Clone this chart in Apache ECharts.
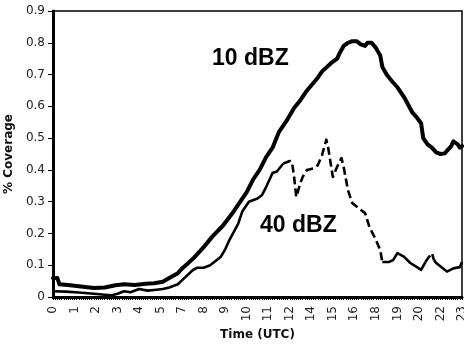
<!DOCTYPE html>
<html><head><meta charset="utf-8">
<script src="https://cdn.jsdelivr.net/npm/echarts@6/dist/echarts.min.js"></script>
<style>html,body{margin:0;padding:0;background:#fff}#c{width:464px;height:344px}</style>
</head><body><div id="c"></div>
<script>
// Hour labels shown every 10th sample on the category axis
const tickLabels = ['0','1','2','3','4','5','7','8','9','10','11','12','14','15','16','18','19','20','22','23'];
const sampleCount = 191;
const yTicks = [0,0.1,0.2,0.3,0.4,0.5,0.6,0.7,0.8,0.9];

// 10 dBZ coverage: sample index and value
const tenIdx = [0,2,3,8,13,19,24,29,33,38,43,47,51,54,58,60,65,70,74,79,84,87,90,93,96,99,102,105,109,112,115,118,123,125,129,132,133,135,137,139,141,143,145,146,148,150,152,153,155,157,158,160,163,165,167,169,171,172,174,176,178,180,182,183,185,186,188,189,190];
const tenVal = [0.06,0.06,0.04,0.037,0.033,0.028,0.03,0.037,0.04,0.038,0.042,0.043,0.048,0.06,0.075,0.09,0.12,0.157,0.19,0.225,0.27,0.3,0.33,0.37,0.40,0.44,0.47,0.52,0.56,0.595,0.62,0.65,0.69,0.71,0.735,0.75,0.765,0.79,0.8,0.805,0.805,0.795,0.79,0.8,0.8,0.784,0.76,0.724,0.7,0.683,0.675,0.66,0.63,0.605,0.58,0.565,0.547,0.5,0.48,0.47,0.455,0.45,0.452,0.46,0.475,0.49,0.48,0.47,0.475];

// 40 dBZ coverage: sample index and value
const fortyIdx = [0,6,12,19,24,27,30,33,36,40,44,47,51,54,58,60,65,67,70,73,78,80,82,86,88,91,95,97,99,102,104,107,110,111,112,113,115,116,118,121,123,125,127,128,130,132,134,135,137,139,143,145,147,150,152,153,156,158,160,163,166,170,171,173,174,176,177,178,183,186,189,190];
const fortyVal = [0.018,0.017,0.014,0.01,0.007,0.005,0.01,0.018,0.015,0.025,0.02,0.022,0.025,0.03,0.04,0.053,0.085,0.092,0.092,0.1,0.127,0.15,0.18,0.23,0.27,0.3,0.31,0.32,0.346,0.39,0.395,0.42,0.428,0.425,0.378,0.315,0.36,0.378,0.4,0.405,0.415,0.447,0.495,0.463,0.378,0.41,0.437,0.41,0.337,0.296,0.274,0.264,0.22,0.18,0.148,0.11,0.11,0.116,0.138,0.127,0.107,0.09,0.085,0.11,0.12,0.138,0.116,0.107,0.08,0.09,0.094,0.11];

// Stretches of the 40 dBZ line drawn dashed (sample index ranges)
const fortySegments = [[0,107,false],[107,153,true],[153,173,false],[173,177,true],[177,190,false]];

const categories = Array.from({length: sampleCount}, (_, i) => String(i));

const series = [];
series.push({
  type: 'line', name: '10 dBZ', showSymbol: false, symbol: 'none',
  data: tenIdx.map((x, k) => [x, tenVal[k]]),
  lineStyle: {color: '#000', width: 4, join: 'round', cap: 'round'},
  z: 3
});
fortySegments.forEach(([a, b, dashed]) => {
  const pts = [];
  fortyIdx.forEach((x, k) => { if (x >= a && x <= b) pts.push([x, fortyVal[k]]); });
  series.push({
    type: 'line', name: '40 dBZ', showSymbol: false, symbol: 'none',
    data: pts,
    lineStyle: {color: '#000', width: 2.6, type: dashed ? [8, 4] : 'solid', join: 'round'},
    z: 2
  });
});

const chart = echarts.init(document.getElementById('c'), null, {renderer: 'canvas'});
chart.setOption({
  animation: false,
  backgroundColor: '#fff',
  grid: {left: 53, right: 2, top: 11, bottom: 47, containLabel: false, outerBoundsMode: 'none',
    show: true, borderColor: '#000', borderWidth: 1.5},
  xAxis: {
    type: 'category', data: categories, boundaryGap: false,
    name: 'Time (UTC)', nameLocation: 'middle', nameGap: 31,
    nameTextStyle: {fontFamily: 'DejaVu Sans', fontWeight: 'bold', fontSize: 12, color: '#111'},
    axisLine: {lineStyle: {color: '#000', width: 3}},
    axisTick: {show: true, interval: 0, length: 3, lineStyle: {color: '#000', width: 1}},
    axisLabel: {
      interval: 9, rotate: 90, margin: 9, fontFamily: 'DejaVu Sans', fontSize: 12, color: '#222',
      formatter: (v, i) => (i % 10 === 0 ? tickLabels[i / 10] : '')
    },
    splitLine: {show: false}
  },
  yAxis: {
    type: 'value', min: yTicks[0], max: yTicks[yTicks.length - 1], interval: 0.1,
    name: '% Coverage', nameLocation: 'middle', nameGap: 34,
    nameTextStyle: {fontFamily: 'DejaVu Sans', fontWeight: 'bold', fontSize: 12, color: '#111'},
    axisLine: {show: true, lineStyle: {color: '#000', width: 3}},
    axisTick: {show: true, length: 5, lineStyle: {color: '#000', width: 1}},
    axisLabel: {margin: 8, fontFamily: 'DejaVu Sans', fontSize: 12, color: '#222',
      formatter: v => String(Math.round(v * 10) / 10)},
    splitLine: {show: false}
  },
  graphic: [
    {type: 'text', left: 212, top: 47, style: {text: '10 dBZ', font: 'bold 23px "Liberation Sans", Arial', fill: '#000'}},
    {type: 'text', left: 260, top: 214, style: {text: '40 dBZ', font: 'bold 23px "Liberation Sans", Arial', fill: '#000'}}
  ],
  series: series
});
</script>
</body></html>
